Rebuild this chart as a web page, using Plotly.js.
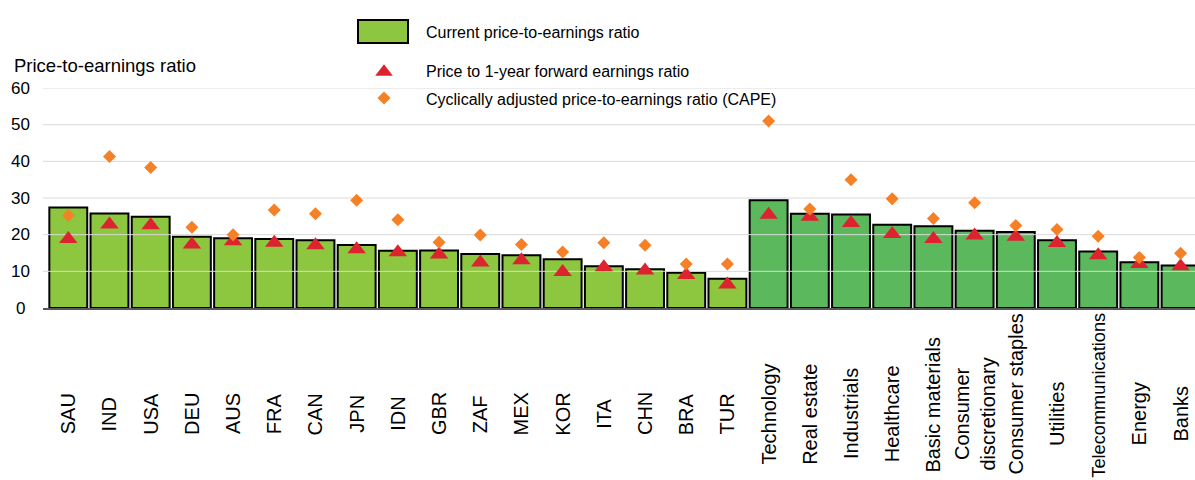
<!DOCTYPE html>
<html><head><meta charset="utf-8">
<script src="https://cdn.plot.ly/plotly-3.0.1.min.js"></script>
<style>html,body{margin:0;padding:0;background:#fff}#chart{width:1195px;height:480px}</style>
</head><body><div id="chart"></div>
<script>
// ---- data ----
const countries = ["SAU","IND","USA","DEU","AUS","FRA","CAN","JPN","IDN","GBR","ZAF","MEX","KOR","ITA","CHN","BRA","TUR"];
const sectors = ["Technology","Real estate","Industrials","Healthcare","Basic materials","Consumer discretionary","Consumer staples","Utilities","Telecommunications","Energy","Banks"];
const tickLabels = ["SAU","IND","USA","DEU","AUS","FRA","CAN","JPN","IDN","GBR","ZAF","MEX","KOR","ITA","CHN","BRA","TUR",
  "Technology","Real estate","Industrials","Healthcare","Basic materials","Consumer<br>discretionary","Consumer staples","Utilities","Telecommunications","Energy","Banks"];
const currentPE = [27.4,25.8,24.9,19.4,19.0,18.8,18.5,17.2,15.6,15.7,14.7,14.4,13.3,11.4,10.6,9.6,8.0,
  29.4,25.7,25.5,22.7,22.3,21.1,20.7,18.5,15.4,12.5,11.6];
const forwardPE = [18.8,22.8,22.6,17.3,18.2,17.8,17.1,16.0,15.2,14.6,12.4,13.0,9.8,11.1,10.2,9.0,6.4,
  25.4,24.9,23.2,20.2,18.8,19.8,19.4,17.7,14.4,12.0,11.4];
const capePE = [25.2,41.3,38.3,22.0,20.0,26.7,25.7,29.4,24.1,17.9,19.9,17.3,15.3,17.8,17.1,12.0,12.0,
  51.0,27.0,35.0,29.8,24.4,28.7,22.5,21.4,19.6,13.8,14.9];
const yTicks = [0,10,20,30,40,50,60];
const legendLabels = ["Current price-to-earnings ratio","Price to 1-year forward earnings ratio","Cyclically adjusted price-to-earnings ratio (CAPE)"];
const yTitle = "Price-to-earnings ratio";

// ---- styles ----
const countryGreen = "#8dc63f", sectorGreen = "#5cb85c";
const red = "#dd2330", orange = "#f58025", gridCol = "#d9d9d9";
const FONT = "'Liberation Sans', Arial, Helvetica, sans-serif";
const XLAB_SIZE = 20;
const categories = countries.concat(sectors);
const barColors = countries.map(() => countryGreen).concat(sectors.map(() => sectorGreen));

// pixel helpers for layout
const L = 43, T = 88, PW = 1152, PH = 220;
const px = x => (x - L) / PW;
const py = y => (T + PH - y) / PH;
const xRange = [-0.614, 27.35];

// measure label lengths to centre them in the label band, clamped to its limits
const ctx = document.createElement("canvas").getContext("2d");
ctx.font = XLAB_SIZE + "px 'Liberation Sans', Arial, sans-serif";
const labelLen = t => Math.max(...t.split("<br>").map(s => ctx.measureText(s).width));
const LAB_MID = 414, LAB_TOP = 313, LAB_BOT = 472, LAB_MAX = 478;
const labelSize = t => Math.min(XLAB_SIZE, XLAB_SIZE * (LAB_MAX - LAB_TOP) / labelLen(t));
const labelCenter = t => {
  const h = labelLen(t) * labelSize(t) / XLAB_SIZE / 2;
  return Math.max(LAB_TOP + h, Math.min(LAB_MID, LAB_BOT - h));
};

const traces = [
  {type: "bar", x: categories, y: currentPE, xaxis: "x", yaxis: "y",
   marker: {color: barColors, line: {color: "#000", width: 2}}, hoverinfo: "skip"},
  {type: "scatter", mode: "lines", xaxis: "x2", yaxis: "y",
   x: yTicks.slice(1).flatMap(() => [0, 1, null]),
   y: yTicks.slice(1).flatMap(v => [v, v, null]),
   line: {color: gridCol, width: 1}, hoverinfo: "skip"},
  {type: "scatter", mode: "markers", x: categories, y: forwardPE, xaxis: "x3", yaxis: "y",
   marker: {symbol: "triangle-up", size: 16, color: red}, hoverinfo: "skip"},
  {type: "scatter", mode: "markers", x: categories, y: capePE, xaxis: "x3", yaxis: "y",
   marker: {symbol: "diamond", size: 10, color: orange}, hoverinfo: "skip"}
];

const annotations = [];
// x category labels
categories.forEach((c, i) => {
  const t = tickLabels[i];
  annotations.push({x: c, xref: "x", y: py(labelCenter(t)), yref: "paper", text: t,
    textangle: -90, showarrow: false, xanchor: "center", yanchor: "middle",
    font: {family: FONT, size: labelSize(t), color: "#000"}});
});
// y tick labels (centered)
yTicks.forEach(v => {
  annotations.push({x: px(20.5), xref: "paper", y: v, yref: "y", text: String(v),
    showarrow: false, xanchor: "center", yanchor: "middle",
    font: {family: FONT, size: 17, color: "#000"}});
});
annotations.push({x: px(12), xref: "paper", y: py(65.5), yref: "paper", text: yTitle,
  showarrow: false, xanchor: "left", yanchor: "middle", font: {family: FONT, size: 18.5, color: "#000"}});
// legend texts
[32.5, 71.5, 99].forEach((yy, i) => {
  annotations.push({x: px(424), xref: "paper", y: py(yy), yref: "paper", text: legendLabels[i],
    showarrow: false, xanchor: "left", yanchor: "middle", font: {family: FONT, size: 16, color: "#000"}});
});

const shapes = [
  {type: "rect", xref: "paper", yref: "paper", x0: px(358), x1: px(408), y0: py(43), y1: py(20),
   fillcolor: countryGreen, line: {color: "#000", width: 2}},
  {type: "path", xref: "paper", yref: "paper",
   path: `M ${px(375.2)} ${py(75.7)} L ${px(392.8)} ${py(75.7)} L ${px(384)} ${py(64.3)} Z`,
   fillcolor: red, line: {width: 0}},
  {type: "path", xref: "paper", yref: "paper",
   path: `M ${px(377.4)} ${py(98)} L ${px(384)} ${py(91.4)} L ${px(390.6)} ${py(98)} L ${px(384)} ${py(104.6)} Z`,
   fillcolor: orange, line: {width: 0}}
];

const layout = {
  width: 1195, height: 480,
  margin: {l: L, r: 0, t: T, b: 480 - T - PH, autoexpand: false},
  paper_bgcolor: "#fff", plot_bgcolor: "#fff",
  showlegend: false, bargap: 0.08,
  font: {family: FONT, color: "#000"},
  xaxis: {type: "category", categoryarray: categories, range: xRange, showticklabels: false,
    showgrid: false, zeroline: false, showline: true, linecolor: "#595959", linewidth: 2, ticks: ""},
  xaxis2: {overlaying: "x", range: [0, 1], visible: false, fixedrange: true},
  xaxis3: {overlaying: "x", type: "category", categoryarray: categories, range: xRange, visible: false},
  yaxis: {range: [0, 60], tickvals: yTicks, showticklabels: false, showgrid: false, zeroline: false, ticks: ""},
  annotations: annotations,
  shapes: shapes
};

Plotly.newPlot("chart", traces, layout, {displayModeBar: false, staticPlot: true});
</script>
</body></html>
